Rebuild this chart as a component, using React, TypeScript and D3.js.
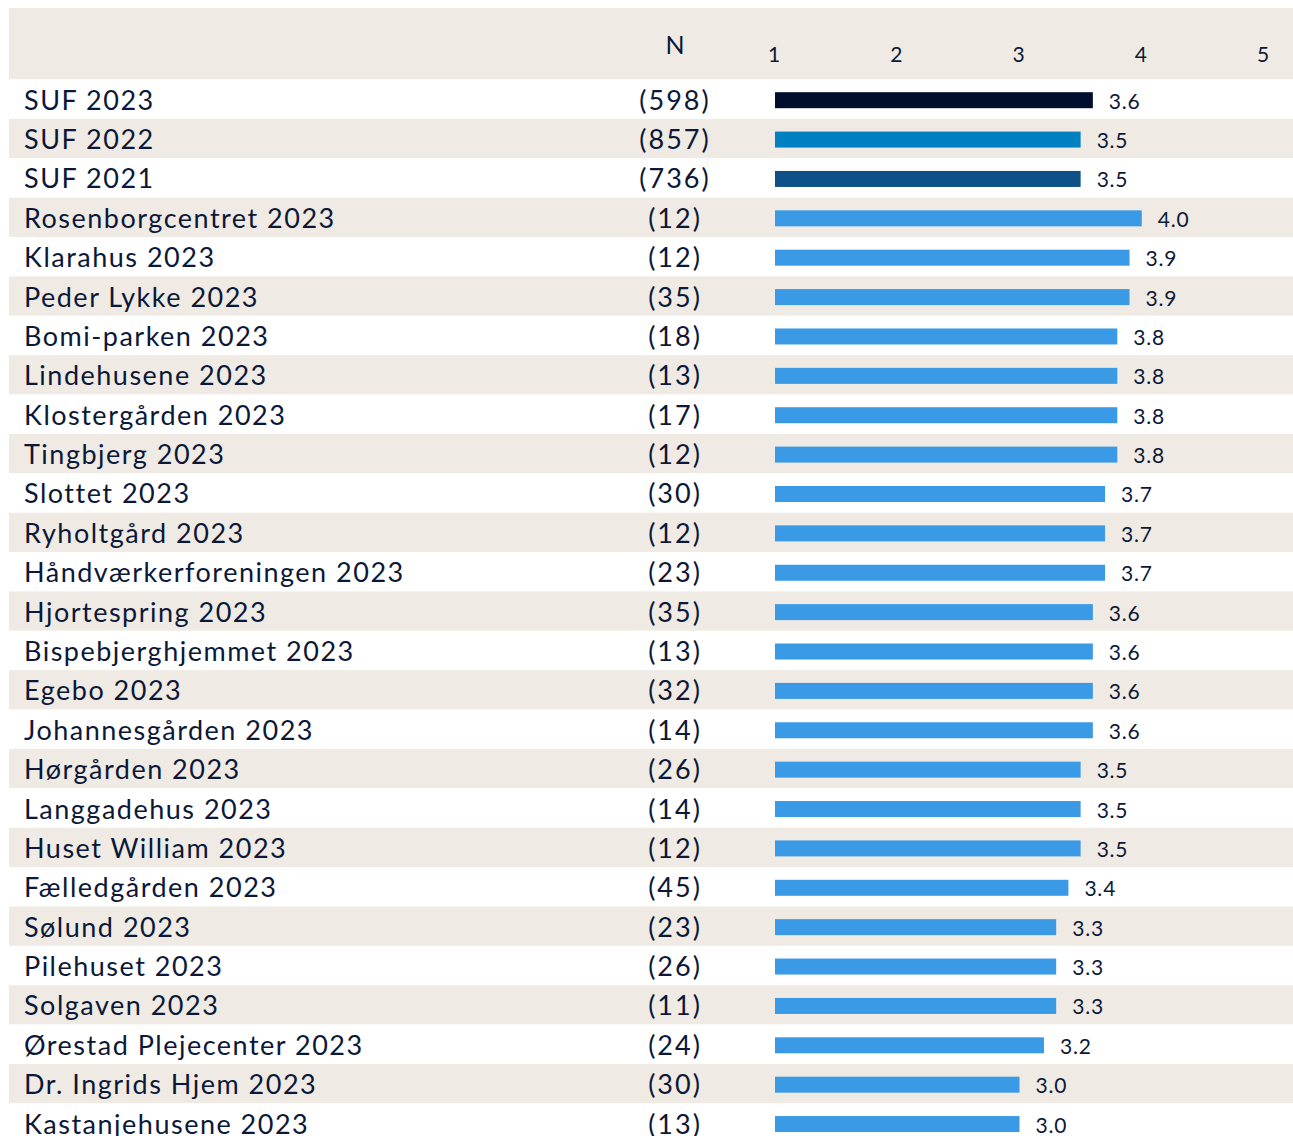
import React, { useEffect, useRef } from 'react';
import * as d3 from 'd3';

const labels = [
  'SUF 2023', 'SUF 2022', 'SUF 2021', 'Rosenborgcentret 2023', 'Klarahus 2023',
  'Peder Lykke 2023', 'Bomi-parken 2023', 'Lindehusene 2023', 'Klostergården 2023',
  'Tingbjerg 2023', 'Slottet 2023', 'Ryholtgård 2023', 'Håndværkerforeningen 2023',
  'Hjortespring 2023', 'Bispebjerghjemmet 2023', 'Egebo 2023', 'Johannesgården 2023',
  'Hørgården 2023', 'Langgadehus 2023', 'Huset William 2023', 'Fælledgården 2023',
  'Sølund 2023', 'Pilehuset 2023', 'Solgaven 2023', 'Ørestad Plejecenter 2023',
  'Dr. Ingrids Hjem 2023', 'Kastanjehusene 2023',
];
const counts = [598, 857, 736, 12, 12, 35, 18, 13, 17, 12, 30, 12, 23, 35, 13, 32, 14, 26, 14, 12, 45, 23, 26, 11, 24, 30, 13];
const scores = [3.6, 3.5, 3.5, 4.0, 3.9, 3.9, 3.8, 3.8, 3.8, 3.8, 3.7, 3.7, 3.7, 3.6, 3.6, 3.6, 3.6, 3.5, 3.5, 3.5, 3.4, 3.3, 3.3, 3.3, 3.2, 3.0, 3.0];
const ticks = [1, 2, 3, 4, 5];

const barColors = ['#000e2e', '#0080c0', '#0e5088'];
const otherColor = '#3a9ae6';
const beige = '#efebe4';
const ink = '#0c1838';

const App = () => {
  const svgRef = useRef(null);

  useEffect(() => {
    const width = 1293;
    const height = 1136;
    const rowH = 39.38;
    const top = 79.5;

    const svg = d3.select(svgRef.current);
    svg.selectAll('*').remove();
    svg.attr('width', width).attr('height', height);

    const font = 'Lato, "Noto Sans", sans-serif';

    const y = d3.scaleBand()
      .domain(labels)
      .range([top, top + rowH * labels.length])
      .paddingInner(0)
      .paddingOuter(0);

    const x = d3.scaleLinear().domain([1, 5]).range([775, 1264]);

    // header band
    svg.append('rect')
      .attr('x', 9).attr('y', 8)
      .attr('width', width - 9).attr('height', top - 8)
      .attr('fill', beige);

    // alternating rows
    svg.append('g')
      .selectAll('rect')
      .data(labels)
      .enter()
      .append('rect')
      .attr('x', 9)
      .attr('y', (d) => y(d))
      .attr('width', width - 9)
      .attr('height', y.bandwidth())
      .attr('fill', (d, i) => (i % 2 === 1 ? beige : '#ffffff'));

    // header text
    svg.append('text')
      .attr('x', 675).attr('y', 44)
      .attr('text-anchor', 'middle')
      .attr('dominant-baseline', 'central')
      .attr('font-family', font)
      .attr('font-size', 25)
      .attr('fill', ink)
      .text('N');

    svg.append('g')
      .selectAll('text')
      .data(ticks)
      .enter()
      .append('text')
      .attr('x', (d) => x(d) - 1)
      .attr('y', 53)
      .attr('text-anchor', 'middle')
      .attr('dominant-baseline', 'central')
      .attr('font-family', font)
      .attr('font-size', 21)
      .attr('fill', ink)
      .text((d) => d);

    const rows = svg.append('g')
      .selectAll('g')
      .data(labels)
      .enter()
      .append('g')
      .attr('transform', (d) => `translate(0, ${y(d) + y.bandwidth() / 2})`);

    rows.append('text')
      .attr('x', 24)
      .attr('dominant-baseline', 'central')
      .attr('font-family', font)
      .attr('font-size', 27)
      .attr('letter-spacing', 1.5)
      .attr('fill', ink)
      .text((d) => d);

    rows.append('text')
      .attr('x', 675)
      .attr('text-anchor', 'middle')
      .attr('dominant-baseline', 'central')
      .attr('font-family', font)
      .attr('font-size', 27)
      .attr('letter-spacing', 2)
      .attr('fill', ink)
      .text((d, i) => `(${counts[i]})`);

    rows.append('rect')
      .attr('x', x(1))
      .attr('y', -7)
      .attr('width', (d, i) => x(scores[i]) - x(1))
      .attr('height', 16)
      .attr('fill', (d, i) => barColors[i] || otherColor);

    rows.append('text')
      .attr('x', (d, i) => x(scores[i]) + 16)
      .attr('y', 1)
      .attr('dominant-baseline', 'central')
      .attr('font-family', font)
      .attr('font-size', 21)
      .attr('letter-spacing', 0.8)
      .attr('fill', ink)
      .text((d, i) => scores[i].toFixed(1));
  }, []);

  return <svg ref={svgRef} style={{ position: 'absolute', left: 0, top: 0 }}></svg>;
};

export default App;
